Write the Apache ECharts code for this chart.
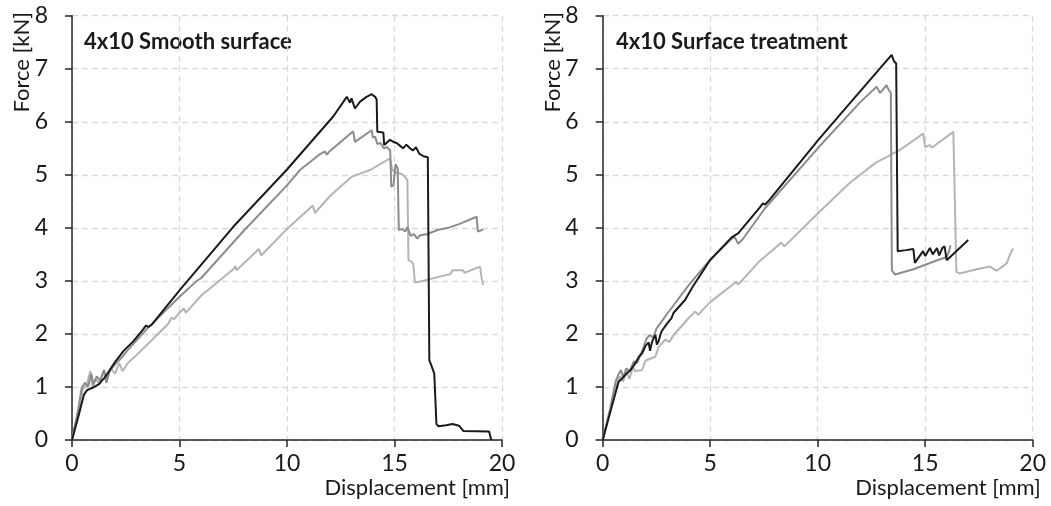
<!DOCTYPE html>
<html>
<head>
<meta charset="utf-8">
<script src="https://cdn.jsdelivr.net/npm/echarts@6/dist/echarts.min.js"></script>
<style>
  html, body { margin: 0; padding: 0; background: #fff; }
  #chart { width: 1051px; height: 506px; }
</style>
</head>
<body>
<div id="chart"></div>
<script>
// axis ticks
var xTicks = [0, 5, 10, 15, 20]
var yTicks = [0, 1, 2, 3, 4, 5, 6, 7, 8]

// 4x10 Smooth surface: [displacement mm, force kN]
var smoothDark = [[0,0],[0.3,0.45],[0.55,0.85],[0.7,0.94],[0.93,0.98],[1.24,1.05],[1.55,1.19],[2.0,1.47],[2.4,1.68],[2.85,1.86],[3.3,2.08],[3.45,2.16],[3.55,2.13],[3.7,2.17],[5.0,2.82],[7.5,4.02],[10.0,5.1],[12.15,6.1],[12.78,6.47],[12.93,6.36],[13.0,6.44],[13.16,6.25],[13.4,6.38],[13.7,6.47],[13.94,6.52],[14.1,6.47],[14.17,6.42],[14.2,5.81],[14.48,5.8],[14.52,5.56],[14.79,5.66],[14.95,5.62],[15.1,5.6],[15.25,5.55],[15.4,5.5],[15.55,5.57],[15.72,5.5],[15.85,5.46],[16.0,5.52],[16.15,5.4],[16.35,5.35],[16.55,5.33],[16.6,5.3],[16.62,1.5],[16.72,1.4],[16.85,1.25],[16.95,0.3],[17.05,0.26],[17.4,0.28],[17.7,0.3],[18.0,0.27],[18.2,0.17],[19.4,0.16],[19.47,0.13],[19.5,0]]
var smoothMid = [[0,0],[0.3,0.6],[0.45,0.98],[0.6,1.08],[0.75,1.0],[0.9,1.25],[1.0,1.05],[1.15,1.2],[1.3,1.12],[1.5,1.32],[1.6,1.08],[1.75,1.3],[2.0,1.42],[2.3,1.55],[2.6,1.7],[3.5,2.1],[5.0,2.7],[5.8,3.0],[6.0,3.05],[8.0,3.95],[10.0,4.8],[10.6,5.09],[11.5,5.38],[11.77,5.44],[11.85,5.38],[12.0,5.45],[13.08,5.82],[13.16,5.62],[13.94,5.84],[14.0,5.7],[14.1,5.72],[14.2,5.58],[14.35,5.6],[14.5,5.5],[14.65,5.52],[14.8,5.46],[14.85,4.78],[14.95,4.8],[15.05,5.2],[15.15,5.12],[15.2,3.96],[15.35,3.98],[15.5,3.93],[15.6,4.02],[15.75,3.85],[15.9,3.88],[16.05,3.8],[16.2,3.86],[16.5,3.88],[17.0,3.96],[17.5,4.0],[18.0,4.07],[18.82,4.21],[18.88,3.93],[19.13,3.97]]
var smoothLight = [[0,0],[0.3,0.55],[0.5,0.95],[0.7,1.05],[0.85,1.3],[0.95,1.0],[1.1,1.15],[1.3,1.05],[1.45,1.3],[1.6,1.1],[1.8,1.35],[2.0,1.25],[2.2,1.45],[2.35,1.3],[2.6,1.45],[3.0,1.6],[4.0,2.0],[4.5,2.2],[4.6,2.3],[4.75,2.28],[5.0,2.4],[5.2,2.48],[5.3,2.4],[6.0,2.72],[7.5,3.22],[7.6,3.28],[7.65,3.2],[8.7,3.6],[8.8,3.48],[10.0,3.98],[11.2,4.42],[11.3,4.28],[12.0,4.6],[13.0,4.96],[13.86,5.09],[14.79,5.31],[14.9,5.1],[15.0,5.05],[15.3,5.02],[15.45,4.98],[15.6,4.9],[15.65,3.39],[15.8,3.36],[15.88,3.3],[15.95,2.97],[16.2,2.99],[17.1,3.08],[17.6,3.13],[17.7,3.2],[18.2,3.2],[18.25,3.15],[18.98,3.27],[19.05,3.05],[19.13,2.92]]

// 4x10 Surface treatment: [displacement mm, force kN]
var treatDark = [[0,0],[0.4,0.6],[0.74,1.1],[0.9,1.16],[1.13,1.26],[1.3,1.32],[1.52,1.45],[1.7,1.58],[1.83,1.63],[2.0,1.78],[2.14,1.84],[2.2,1.68],[2.3,1.86],[2.45,1.98],[2.52,1.8],[2.59,1.85],[2.68,1.98],[2.74,2.05],[3.0,2.2],[3.2,2.3],[3.3,2.4],[3.83,2.64],[4.2,2.9],[4.99,3.39],[6.0,3.82],[6.31,3.9],[7.3,4.38],[7.45,4.46],[7.55,4.44],[7.7,4.5],[10.03,5.66],[11.5,6.35],[13.44,7.26],[13.55,7.14],[13.65,7.1],[13.72,3.56],[14.1,3.58],[14.45,3.6],[14.52,3.34],[14.9,3.56],[15.0,3.47],[15.22,3.62],[15.35,3.5],[15.55,3.62],[15.65,3.48],[15.8,3.62],[15.9,3.65],[16.0,3.39],[17.0,3.77]]
var treatMid = [[0,0],[0.35,0.6],[0.6,1.1],[0.75,1.25],[0.85,1.32],[0.95,1.18],[1.1,1.35],[1.25,1.3],[1.45,1.48],[1.6,1.45],[1.85,1.7],[2.05,1.92],[2.2,1.98],[2.35,1.93],[2.5,2.1],[3.0,2.38],[4.0,2.92],[5.0,3.4],[6.0,3.8],[6.15,3.82],[6.3,3.7],[6.5,3.78],[7.55,4.37],[10.0,5.5],[12.0,6.38],[12.74,6.66],[12.9,6.54],[13.2,6.69],[13.3,6.6],[13.4,6.55],[13.45,3.2],[13.6,3.12],[14.45,3.22],[15.5,3.38],[16.0,3.45],[16.1,3.55],[16.18,3.67]]
var treatLight = [[0,0],[0.35,0.55],[0.6,1.0],[0.8,1.2],[0.95,1.1],[1.1,1.3],[1.25,1.15],[1.4,1.38],[1.5,1.3],[1.83,1.32],[2.0,1.5],[2.45,1.57],[2.6,1.75],[2.9,1.89],[3.1,1.85],[3.3,1.98],[4.0,2.3],[4.3,2.42],[4.45,2.36],[4.76,2.5],[5.0,2.6],[6.2,2.98],[6.3,2.93],[7.24,3.35],[8.3,3.72],[8.45,3.65],[10.0,4.27],[11.5,4.85],[12.67,5.22],[13.83,5.47],[14.91,5.78],[14.99,5.53],[15.22,5.56],[15.3,5.51],[16.31,5.81],[16.4,5.78],[16.45,3.17],[16.6,3.14],[17.4,3.22],[18.01,3.27],[18.33,3.19],[18.79,3.33],[19.0,3.55],[19.1,3.61]]

var FONT = 'Lato'
var chartDom = document.getElementById('chart')
var myChart = echarts.init(chartDom)

function makeX(i) {
  return {
    type: 'value', gridIndex: i, min: xTicks[0], max: xTicks[xTicks.length - 1], interval: 5,
    name: 'Displacement [mm]', nameLocation: 'end', nameGap: 8,
    nameTextStyle: { fontFamily: FONT, fontSize: 22, color: '#1a1a1a', align: 'right', verticalAlign: 'top', padding: [37, 0, 0, 0] },
    axisLine: { show: true, lineStyle: { color: '#262626', width: 1.5 } },
    axisTick: { show: true, length: 7, lineStyle: { color: '#262626', width: 1.5 } },
    axisLabel: { fontFamily: FONT, fontSize: 23, color: '#1a1a1a', margin: 12 },
    splitLine: { show: true, lineStyle: { color: '#d9d9d9', width: 1.3, type: [6, 4] } }
  }
}
function makeY(i) {
  return {
    type: 'value', gridIndex: i, min: yTicks[0], max: yTicks[yTicks.length - 1], interval: 1,
    axisLine: { show: true, lineStyle: { color: '#262626', width: 1.5 } },
    axisTick: { show: true, length: 7, lineStyle: { color: '#262626', width: 1.5 } },
    axisLabel: { fontFamily: FONT, fontSize: 23, color: '#1a1a1a', margin: 24 },
    splitLine: { show: true, lineStyle: { color: '#d9d9d9', width: 1.3, type: [6, 4] } }
  }
}
function line(data, i, color) {
  return {
    type: 'line', xAxisIndex: i, yAxisIndex: i, data: data,
    showSymbol: false, symbol: 'none',
    lineStyle: { color: color, width: 2 }
  }
}

var option = {
  animation: false,
  grid: [
    { left: 72, top: 15.7, width: 430, height: 424.3 },
    { left: 602.7, top: 15.7, width: 430, height: 424.3 }
  ],
  xAxis: [makeX(0), makeX(1)],
  yAxis: [makeY(0), makeY(1)],
  graphic: [
    { type: 'text', x: 84, y: 42, style: { text: '4x10 Smooth surface', font: 'bold 22px ' + FONT, fill: '#1a1a1a', verticalAlign: 'middle' } },
    { type: 'text', x: 616, y: 42, style: { text: '4x10 Surface treatment', font: 'bold 22px ' + FONT, fill: '#1a1a1a', verticalAlign: 'middle' } },
    { type: 'text', x: 22, y: 12, rotation: Math.PI / 2, style: { text: 'Force [kN]', font: '22px ' + FONT, fill: '#1a1a1a', align: 'right', verticalAlign: 'middle' } },
    { type: 'text', x: 553, y: 12, rotation: Math.PI / 2, style: { text: 'Force [kN]', font: '22px ' + FONT, fill: '#1a1a1a', align: 'right', verticalAlign: 'middle' } }
  ],
  series: [
    line(smoothLight, 0, '#b4b4b4'),
    line(smoothMid, 0, '#8c8c8c'),
    line(smoothDark, 0, '#1a1a1a'),
    line(treatLight, 1, '#b4b4b4'),
    line(treatMid, 1, '#8c8c8c'),
    line(treatDark, 1, '#1a1a1a')
  ]
}
myChart.setOption(option)
</script>
</body>
</html>
